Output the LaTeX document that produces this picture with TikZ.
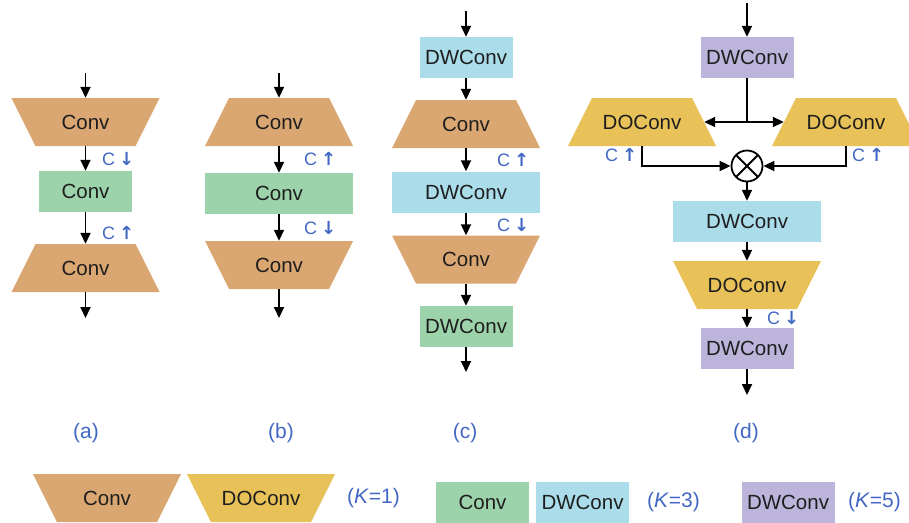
\documentclass[tikz,border=0pt]{standalone}
\usepackage{fontspec}
\setmainfont{Liberation Sans}
\newfontfamily\arrowfont{DejaVu Sans}
\usetikzlibrary{arrows.meta}

\definecolor{convtan}{RGB}{218,167,114}
\definecolor{kgreen}{RGB}{157,211,170}
\definecolor{kblue}{RGB}{170,220,234}
\definecolor{doyellow}{RGB}{232,194,88}
\definecolor{kpurple}{RGB}{188,180,219}
\definecolor{lblue}{RGB}{66,104,196}
\definecolor{txt}{RGB}{30,30,30}

\newcommand{\chdown}{C\hspace{4pt}{\arrowfont\bfseries ↓}}
\newcommand{\chup}{C\hspace{4pt}{\arrowfont\bfseries ↑}}

\tikzset{
  blk/.style={rectangle, inner sep=0pt, text=txt, font=\fontsize{20.5}{24}\selectfont},
  smallbox/.style={blk, minimum width=93pt, minimum height=41pt},
  widebox/.style={blk, minimum width=148pt, minimum height=41pt},
  % trapezoid with the short side on top
  trapnarrow/.style={blk, minimum width=148pt, minimum height=48pt,
      path picture={\fill[#1]
        ([xshift=24pt]path picture bounding box.north west) --
        ([xshift=-24pt]path picture bounding box.north east) --
        (path picture bounding box.south east) --
        (path picture bounding box.south west) -- cycle;}},
  % trapezoid with the long side on top
  trapwide/.style={blk, minimum width=148pt, minimum height=48pt,
      path picture={\fill[#1]
        (path picture bounding box.north west) --
        (path picture bounding box.north east) --
        ([xshift=-24pt]path picture bounding box.south east) --
        ([xshift=24pt]path picture bounding box.south west) -- cycle;}},
  flow/.style={-{Triangle[length=11pt,width=10pt]}, line width=1.8pt, black},
  lnk/.style={line width=1.8pt, black},
  clabel/.style={anchor=west, inner sep=0pt, text=lblue, font=\fontsize{18}{20}\selectfont},
  caption/.style={inner sep=0pt, text=lblue, font=\fontsize{21}{24}\selectfont},
}

\begin{document}
\begin{tikzpicture}[x=1pt,y=-1pt]
\useasboundingbox (0,0) rectangle (909,522);

% ---------------- (a) ----------------
\coordinate (a0) at (85.5,73);
\node[trapwide=convtan] (A1) at (85.5,122) {Conv};
\node[smallbox, fill=kgreen] (A2) at (85.5,191.5) {Conv};
\node[trapnarrow=convtan] (A3) at (85.5,268) {Conv};
\coordinate (a4) at (85.5,318);
\draw[flow] (a0) -- (A1);
\draw[flow] (A1) -- (A2);
\draw[flow] (A2) -- (A3);
\draw[flow] (A3) -- (a4);
\node[clabel] (la1) at (102,159) {\chdown};
\node[clabel] (la2) at (102,233) {\chup};

% ---------------- (b) ----------------
\coordinate (b0) at (279,73);
\node[trapnarrow=convtan] (B1) at (279,122) {Conv};
\node[widebox, fill=kgreen] (B2) at (279,193.5) {Conv};
\node[trapwide=convtan] (B3) at (279,265) {Conv};
\coordinate (b4) at (279,318);
\draw[flow] (b0) -- (B1);
\draw[flow] (B1) -- (B2);
\draw[flow] (B2) -- (B3);
\draw[flow] (B3) -- (b4);
\node[clabel] (lb1) at (304,159) {\chup};
\node[clabel] (lb2) at (304,228) {\chdown};

% ---------------- (c) ----------------
\coordinate (c0) at (466,11);
\node[smallbox, fill=kblue] (C1) at (466,57.5) {DWConv};
\node[trapnarrow=convtan] (C2) at (466,124) {Conv};
\node[widebox, fill=kblue] (C3) at (466,192) {DWConv};
\node[trapwide=convtan] (C4) at (466,259.5) {Conv};
\node[smallbox, fill=kgreen] (C5) at (466,326.5) {DWConv};
\coordinate (c6) at (466,372);
\draw[flow] (c0) -- (C1);
\draw[flow] (C1) -- (C2);
\draw[flow] (C2) -- (C3);
\draw[flow] (C3) -- (C4);
\draw[flow] (C4) -- (C5);
\draw[flow] (C5) -- (c6);
\node[clabel] (lc1) at (497,160) {\chup};
\node[clabel] (lc2) at (497,225) {\chdown};

% ---------------- (d) ----------------
\coordinate (d0) at (747,3);
\node[smallbox, fill=kpurple] (D1) at (747,57.5) {DWConv};
\node[trapnarrow=doyellow] (DL) at (642,122) {DOConv};
\node[trapnarrow=doyellow] (DR) at (846,122) {DOConv};
\node[circle, draw, line width=1.8pt, minimum size=31pt, inner sep=0pt,
      path picture={
        \draw[line width=1.8pt] (path picture bounding box.north west) -- (path picture bounding box.south east);
        \draw[line width=1.8pt] (path picture bounding box.north east) -- (path picture bounding box.south west);
      }] (X) at (747,166) {};
\node[widebox, fill=kblue] (D2) at (747,221.5) {DWConv};
\node[trapwide=doyellow] (D3) at (747,285) {DOConv};
\node[smallbox, fill=kpurple] (D4) at (747,348.5) {DWConv};
\coordinate (d5) at (747,395);
% points where the split arrows meet the slanted sides
\coordinate (DLside) at ([xshift=-12pt]DL.east);
\coordinate (DRside) at ([xshift=12pt]DR.west);
\coordinate (split) at (D1.south |- DL.east);
\draw[flow] (d0) -- (D1);
\draw[lnk] (D1) -- (split);
\draw[flow] (split) -- (DLside);
\draw[flow] (split) -- (DRside);
\draw[flow] (DL.south) |- (X.west);
\draw[flow] (DR.south) |- (X.east);
\draw[flow] (X) -- (D2);
\draw[flow] (D2) -- (D3);
\draw[flow] (D3) -- (D4);
\draw[flow] (D4) -- (d5);
\node[clabel] (ld1) at (605,155) {\chup};
\node[clabel] (ld2) at (852,155) {\chup};
\node[clabel] (ld3) at (767,318) {\chdown};

% ---------------- captions ----------------
\node[caption] (capa) at (86,433) {(a)};
\node[caption] (capb) at (281,433) {(b)};
\node[caption] (capc) at (465,433) {(c)};
\node[caption] (capd) at (746,433) {(d)};

% ---------------- legend ----------------
\node[trapwide=convtan] (K1a) at (107,498) {Conv};
\node[trapwide=doyellow] (K1b) at (261,498) {DOConv};
\node[caption, anchor=west] (K1t) at (347,498) {(\textit{K}=1)};
\node[smallbox, fill=kgreen] (K3a) at (482.5,502.5) {Conv};
\node[smallbox, fill=kblue] (K3b) at (582.5,502.5) {DWConv};
\node[caption, anchor=west] (K3t) at (647,502) {(\textit{K}=3)};
\node[smallbox, fill=kpurple] (K5a) at (788,502.5) {DWConv};
\node[caption, anchor=west] (K5t) at (848,502) {(\textit{K}=5)};
\end{tikzpicture}
\end{document}
